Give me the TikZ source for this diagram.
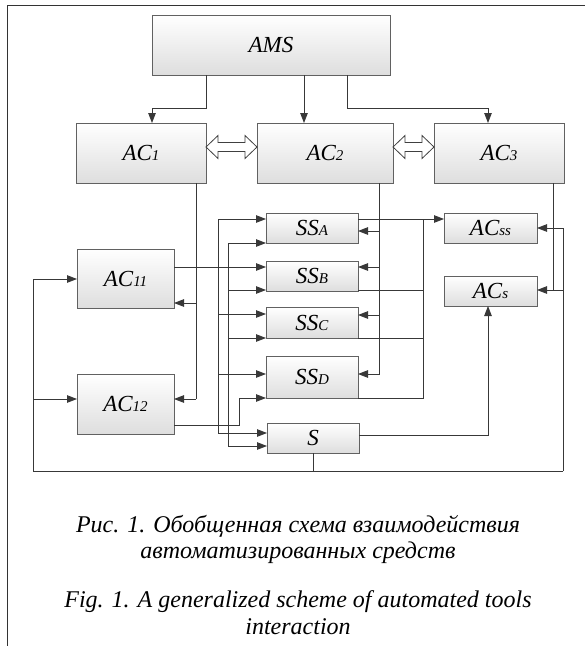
\documentclass[tikz,border=0pt]{standalone}
\usepackage{fontspec}
\setmainfont{Liberation Serif}
\usetikzlibrary{arrows.meta,shadows,calc}
\newcommand\boxlab[2]{#1{\fontsize{15}{15}\selectfont #2}}
\begin{document}
\begin{tikzpicture}[x=1pt,y=-1pt,
  box/.style={draw=black!62, line width=0.8pt, top color=white, bottom color=black!13,
    inner sep=0pt, outer sep=0pt, font=\fontsize{23}{26}\selectfont\itshape,
    drop shadow={shadow xshift=1.3pt,shadow yshift=-1.3pt,opacity=0.35,fill=black!70}},
  ln/.style={draw=black!78, line width=0.9pt},
  arr/.style={ln, -{Triangle[length=10pt,width=7.5pt]}},
  dbl/.style={draw=black!75, line width=0.8pt, fill=white, line join=miter},
  captxt/.style={anchor=base, font=\fontsize{24}{27}\selectfont\itshape}]
\useasboundingbox (0,0) rectangle (585,646);
\fill[white] (0,0) rectangle (585,646);
% frame
\draw[black!80, line width=0.9pt] (7,646) -- (7,5) -- (585,5);

% boxes
\node[box, minimum width=238pt, minimum height=60pt] (AMS) at (271,45) {AMS};
\node[box, minimum width=130pt, minimum height=60pt] (AC1) at (141,153) {\boxlab{AC}{1}};
\node[box, minimum width=136pt, minimum height=60pt] (AC2) at (325,153) {\boxlab{AC}{2}};
\node[box, minimum width=130pt, minimum height=60pt] (AC3) at (499,153) {\boxlab{AC}{3}};
\node[box, minimum width=97pt, minimum height=59pt] (AC11) at (125.5,278.5) {\boxlab{AC}{11}};
\node[box, minimum width=97pt, minimum height=60pt] (AC12) at (125.5,404) {\boxlab{AC}{12}};
\node[box, minimum width=92pt, minimum height=30pt] (SSA) at (312,228) {\boxlab{SS}{A}};
\node[box, minimum width=92pt, minimum height=30pt] (SSB) at (312,276) {\boxlab{SS}{B}};
\node[box, minimum width=92pt, minimum height=31pt] (SSC) at (312,322.5) {\boxlab{SS}{C}};
\node[box, minimum width=92pt, minimum height=42pt] (SSD) at (312,377) {\boxlab{SS}{D}};
\node[box, minimum width=92pt, minimum height=30pt] (S) at (313,438) {S};
\node[box, minimum width=93pt, minimum height=30pt] (ACss) at (490.5,228) {\boxlab{AC}{ss}};
\node[box, minimum width=93pt, minimum height=30pt] (ACs) at (490.5,291) {\boxlab{AC}{s}};

% AMS -> AC1, AC2, AC3
\coordinate (c1a) at (206,108); \coordinate (c1b) at (152,108);
\coordinate (c2) at (304,100);
\coordinate (c3a) at (347,108); \coordinate (c3b) at (488,108);
\draw[arr] (AMS.south -| c1a) -- (c1a) -- (c1b) -- (c1b |- AC1.north);
\draw[arr] (AMS.south -| c2) -- (c2 |- AC2.north);
\draw[arr] (AMS.south -| c3a) -- (c3a) -- (c3b) -- (c3b |- AC3.north);

% double arrows
\draw[dbl] ($(AC1.east)+(0,-6)$) -- ++(12,-11.5) -- ++(0,7) -- ($(AC2.west)+(-12,-10.5)$)
  -- ++(0,-7) -- ($(AC2.west)+(0,-6)$) -- ++(-12,11.5) -- ++(0,-7)
  -- ($(AC1.east)+(12,-1.5)$) -- ++(0,7) -- cycle;
\draw[dbl] ($(AC2.east)+(0,-6)$) -- ++(12,-11.5) -- ++(0,7) -- ($(AC3.west)+(-12,-10.5)$)
  -- ++(0,-7) -- ($(AC3.west)+(0,-6)$) -- ++(-12,11.5) -- ++(0,-7)
  -- ($(AC2.east)+(12,-1.5)$) -- ++(0,7) -- cycle;

% AC1 line to AC11, AC12
\coordinate (v1) at (196,399); \coordinate (t11) at (196,303);
\draw[ln] (AC1.south -| v1) -- (v1);
\draw[arr] (t11) -- (t11 -| AC11.east);
\draw[arr] (v1) -- (v1 -| AC12.east);

% outer loop
\coordinate (L0) at (33,471); \coordinate (L1) at (33,279); \coordinate (L2) at (33,399);
\coordinate (R0) at (563,471); \coordinate (R1) at (563,228); \coordinate (R2) at (563,290);
\draw[arr] (L0) -- (L1) -- (L1 -| AC11.west);
\draw[arr] (L2) -- (L2 -| AC12.west);
\draw[ln] (L0) -- (R0);
\draw[ln] (S.south) -- (S.south |- L0);
\draw[arr] (R0) -- (R1) -- (R1 -| ACss.east);
\draw[arr] (R2) -- (R2 -| ACs.east);
\coordinate (v3) at (553,290);
\draw[ln] (AC3.south -| v3) -- (v3);

% AC11 -> SSB, AC12 -> SSD
\coordinate (o11) at (174,267);
\draw[arr] (AC11.east |- o11) -- (o11 -| SSB.west);
\coordinate (o12) at (239,425); \coordinate (o12b) at (239,398);
\draw[arr] (AC12.east |- o12) -- (o12) -- (o12b) -- (o12b -| SSD.west);

% left buses
\coordinate (b1t) at (218,219); \coordinate (b1b) at (218,433);
\coordinate (b1c) at (218,314); \coordinate (b1d) at (218,374);
\draw[arr] (b1b) -- (b1t) -- (b1t -| SSA.west);
\draw[arr] (b1t) -- (b1b) -- (b1b -| S.west);
\draw[arr] (b1c) -- (b1c -| SSC.west);
\draw[arr] (b1d) -- (b1d -| SSD.west);
\coordinate (b2t) at (228,243); \coordinate (b2b) at (228,446);
\coordinate (b2b1) at (228,290); \coordinate (b2c) at (228,338);
\draw[arr] (b2b) -- (b2t) -- (b2t -| SSA.west);
\draw[arr] (b2t) -- (b2b) -- (b2b -| S.west);
\draw[arr] (b2b1) -- (b2b1 -| SSB.west);
\draw[arr] (b2c) -- (b2c -| SSC.west);

% AC2 line to SS boxes
\coordinate (v2) at (379,374);
\coordinate (v2a) at (379,231); \coordinate (v2b) at (379,267); \coordinate (v2c) at (379,315);
\draw[arr] (AC2.south -| v2) -- (v2) -- (v2 -| SSD.east);
\draw[arr] (v2a) -- (v2a -| SSA.east);
\draw[arr] (v2b) -- (v2b -| SSB.east);
\draw[arr] (v2c) -- (v2c -| SSC.east);

% SS outputs to ACss
\coordinate (a1) at (423,219); \coordinate (rb) at (423,398);
\coordinate (rbb) at (423,290); \coordinate (rbc) at (423,338);
\draw[arr] (SSA.east |- a1) -- (a1 -| ACss.west);
\draw[ln] (a1) -- (rb) -- (rb -| SSD.east);
\draw[ln] (rbb) -- (rbb -| SSB.east);
\draw[ln] (rbc) -- (rbc -| SSC.east);

% S -> ACs
\coordinate (so) at (488,435);
\draw[arr] (S.east |- so) -- (so) -- (so |- ACs.south);

% captions
\node[captxt] (cap1) at (298,532) {Рис. 1. Обобщенная схема взаимодействия};
\node[captxt] (cap2) at (298,558) {автоматизированных средств};
\node[captxt] (cap3) at (298,607) {Fig. 1. A generalized scheme of automated tools};
\node[captxt] (cap4) at (298,634) {interaction};
\end{tikzpicture}
\end{document}
